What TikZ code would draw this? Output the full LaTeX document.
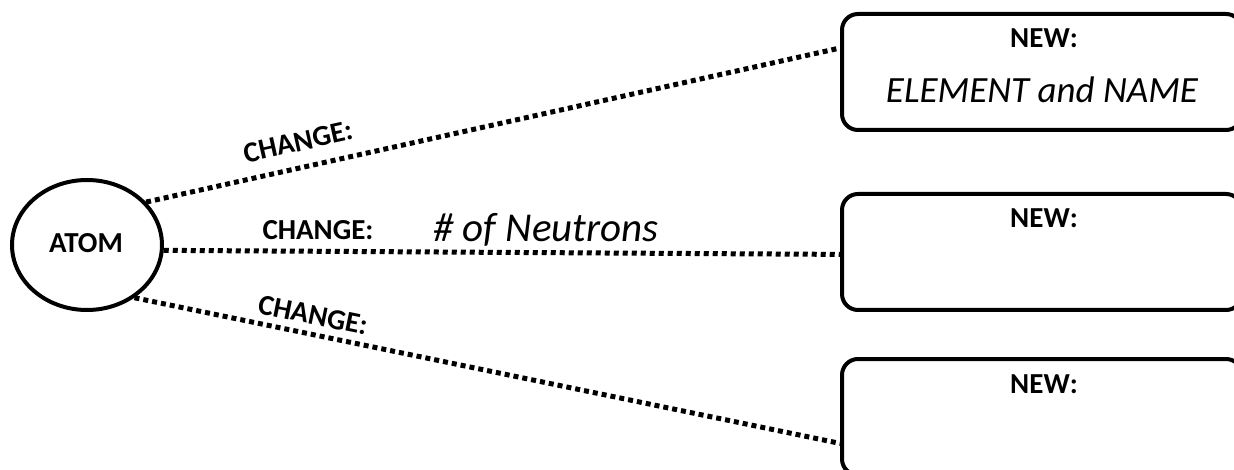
\documentclass[tikz,border=0pt]{standalone}
\usepackage{fontspec}
\setmainfont{Carlito}
\usetikzlibrary{shapes.geometric,calc}
\begin{document}
\begin{tikzpicture}[x=1pt,y=-1pt,
  dotline/.style={line width=5pt,dash pattern=on 5pt off 4pt},
  newbox/.style={draw,line width=4pt,rounded corners=16pt,minimum width=400pt,minimum height=116pt,anchor=north west,inner sep=0pt},
  lbl/.style={font=\bfseries\fontsize{29}{33}\selectfont,inner sep=0pt},
  big/.style={font=\itshape\fontsize{37}{42}\selectfont,inner sep=0pt}]
\useasboundingbox (0,0) rectangle (1234,470);
\begin{scope}
\clip (0,0) rectangle (1234,470);
\node[draw,ellipse,line width=4pt,minimum width=150pt,minimum height=130pt,inner sep=0pt] (atom) at (87,245) {};
\node[lbl,anchor=base] (atxt) at (86,253) {ATOM};
\node[newbox] (b1) at (840,12) {};
\node[newbox] (b2) at (840,192) {};
\node[newbox] (b3) at (840,357) {};
\coordinate (e1) at ($(b1.north west)!0.30!(b1.south west)$);
\coordinate (e2) at ($(b2.north west)!0.52!(b2.south west)$);
\coordinate (e3) at ($(b3.north west)!0.72!(b3.south west)$);
\draw[dotline] (atom.36) -- (e1);
\draw[dotline] (atom.-4) -- (e2);
\draw[dotline] (atom.-48) -- (e3);
\node[lbl,rotate=12.5] (c1) at (298,142) {CHANGE:};
\node[lbl,anchor=base] (c2) at (318,240) {CHANGE:};
\node[lbl,rotate=-11.5] (c3) at (313,315) {CHANGE:};
\node[big,anchor=base,font=\itshape\fontsize{41}{46}\selectfont] (neu) at (546,242) {\# of Neutrons};
\node[lbl,anchor=base] (n1) at (1044,48) {NEW:};
\node[big,anchor=base] (el) at (1042,103) {ELEMENT and NAME};
\node[lbl,anchor=base] (n2) at (1044,228) {NEW:};
\node[lbl,anchor=base] (n3) at (1044,393) {NEW:};
\end{scope}
\end{tikzpicture}
\end{document}
